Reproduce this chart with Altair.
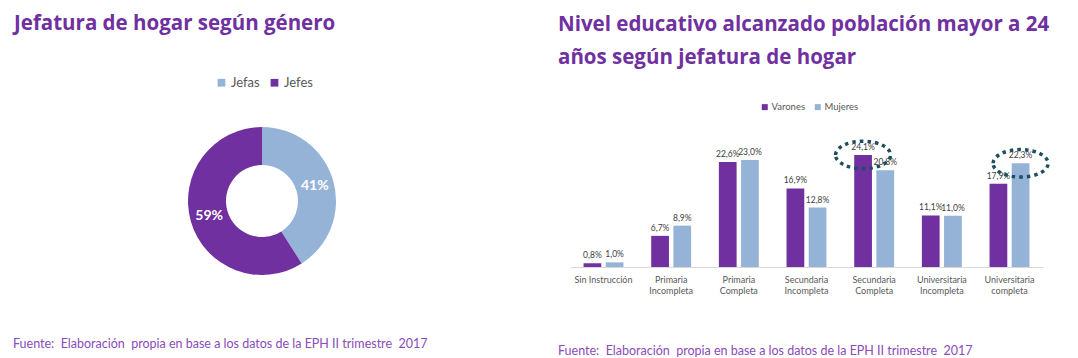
import altair as alt
import pandas as pd

PURPLE = "#7030A0"
LIGHT = "#95B3D7"
TITLE_COLOR = "#7030A0"
FOOT_COLOR = "#8A4CB8"
GRAY = "#595959"
FONT = "Lato"
TFONT = "Open Sans"

# ---- data: donut ----
jef_tipos = ["Jefas", "Jefes"]
jef_valores = [41, 59]
jef_etiquetas = ["41%", "59%"]

# ---- data: bars ----
niveles = [
    "Sin Instrucción",
    "Primaria\nIncompleta",
    "Primaria\nCompleta",
    "Secundaria\nIncompleta",
    "Secundaria\nCompleta",
    "Universitaria\nIncompleta",
    "Universitaria\ncompleta",
]
series = ["Varones", "Mujeres"]
varones = [0.8, 6.7, 22.6, 16.9, 24.1, 11.1, 17.9]
mujeres = [1.0, 8.9, 23.0, 12.8, 20.8, 11.0, 22.3]

destacado_nivel = ["Secundaria\nCompleta", "Universitaria\ncompleta"]
destacado_serie = ["Varones", "Mujeres"]
destacado_valor = [24.1, 22.3]

fuente = "Fuente:\u00a0 Elaboración\u00a0 propia en base a los datos de la EPH II trimestre\u00a0 2017"

# ---- tables ----
donut_df = pd.DataFrame({"tipo": jef_tipos, "valor": jef_valores,
                         "etiqueta": jef_etiquetas, "orden": [0, 1]})

rows = []
for i, n in enumerate(niveles):
    for s, vals in zip(series, [varones, mujeres]):
        v = vals[i]
        rows.append({"nivel": n, "serie": s, "valor": v,
                     "etiqueta": f"{v:.1f}%".replace(".", ",")})
bars_df = pd.DataFrame(rows)
hl_df = pd.DataFrame({"nivel": destacado_nivel, "serie": destacado_serie,
                      "valor": destacado_valor})
foot_df = pd.DataFrame({"t": [fuente]})

# ---- left panel ----
W1, H1 = 508, 198
base = alt.Chart(donut_df).encode(
    theta=alt.Theta("valor:Q", stack=True),
    order=alt.Order("orden:Q"),
)
arcs = base.mark_arc(outerRadius=74, innerRadius=36).encode(
    color=alt.Color("tipo:N",
                    scale=alt.Scale(domain=jef_tipos, range=[LIGHT, PURPLE]),
                    legend=alt.Legend(title=None, orient="none", direction="horizontal",
                                      legendX=207, legendY=-26, labelFont=FONT,
                                      labelFontSize=13, labelColor=GRAY,
                                      symbolType="square", symbolSize=60,
                                      symbolStrokeWidth=0, columnPadding=8,
                                      labelOffset=3))
)
arc_text = base.mark_text(radius=55, font=FONT, fontSize=14, fontWeight="bold",
                          color="white").encode(text="etiqueta:N")
foot1 = alt.Chart(foot_df).mark_text(align="left", baseline="middle", font=FONT,
                                     fontSize=12.5, color=FOOT_COLOR).encode(
    x=alt.value(5), y=alt.value(242), text="t:N")

left = alt.layer(arcs, arc_text, foot1).properties(
    width=W1, height=H1,
    title=alt.TitleParams("Jefatura de hogar según género", anchor="start",
                          font=TFONT, fontSize=20.5, fontWeight="bold",
                          color=TITLE_COLOR, offset=42, dx=6),
)

# ---- right panel ----
W2, H2 = 473, 165
xenc = alt.X("nivel:N", sort=niveles, title=None,
             scale=alt.Scale(paddingInner=0.41, paddingOuter=0.2),
             axis=alt.Axis(labelAngle=0, ticks=False, domainColor="#D9D9D9",
                           labelFont=FONT, labelFontSize=9, labelColor=GRAY,
                           labelPadding=8, labelLineHeight=11,
                           labelExpr="split(datum.value, '\\n')"))
xoff = alt.XOffset("serie:N", sort=series, scale=alt.Scale(paddingInner=0.2))
yenc = alt.Y("valor:Q", title=None, scale=alt.Scale(domain=[0, 35.5]), axis=None)

bars = alt.Chart(bars_df).mark_bar().encode(
    x=xenc, xOffset=xoff, y=yenc,
    color=alt.Color("serie:N", sort=series,
                    scale=alt.Scale(domain=series, range=[PURPLE, LIGHT]),
                    legend=alt.Legend(title=None, orient="none", direction="horizontal",
                                      legendX=190, legendY=0, labelFont=FONT,
                                      labelFontSize=9.5, labelColor=GRAY,
                                      symbolType="square", symbolSize=36,
                                      symbolStrokeWidth=0, columnPadding=7,
                                      labelOffset=2)),
)
bar_text = alt.Chart(bars_df).mark_text(baseline="bottom", dy=-3, font=FONT,
                                        fontSize=8.5, color="#404040").encode(
    x=xenc, xOffset=xoff, y=yenc, text="etiqueta:N")

ellipse = ("M -1 0 C -1 -0.276 -0.552 -0.5 0 -0.5 C 0.552 -0.5 1 -0.276 1 0 "
           "C 1 0.276 0.552 0.5 0 0.5 C -0.552 0.5 -1 0.276 -1 0 Z")
hl = alt.Chart(hl_df).mark_point(shape=ellipse, size=3025, filled=False,
                                 stroke="#1F4E5F", strokeWidth=3.5,
                                 strokeDash=[3.5, 4], dy=-8, opacity=1).encode(
    x=xenc, xOffset=xoff, y=yenc)

foot2 = alt.Chart(foot_df).mark_text(align="left", baseline="middle", font=FONT,
                                     fontSize=12.5, color=FOOT_COLOR).encode(
    x=alt.value(-12), y=alt.value(249), text="t:N")

right = alt.layer(bars, bar_text, hl, foot2).properties(
    width=W2, height=H2,
    title=alt.TitleParams(["Nivel educativo alcanzado población mayor a 24",
                           "años según jefatura de hogar"],
                          anchor="start", font=TFONT, fontSize=20.5, fontWeight="bold",
                          color=TITLE_COLOR, lineHeight=33, offset=34),
)

chart = alt.hconcat(left, right, spacing=42).resolve_scale(
    color="independent", x="independent", y="independent", theta="independent"
).properties(padding={"top": 5, "left": 0, "right": 0, "bottom": 0}).configure_view(
    stroke=None).configure_legend(labelFont=FONT)

chart.save("out.html", embed_options={"renderer": "svg", "actions": False})
